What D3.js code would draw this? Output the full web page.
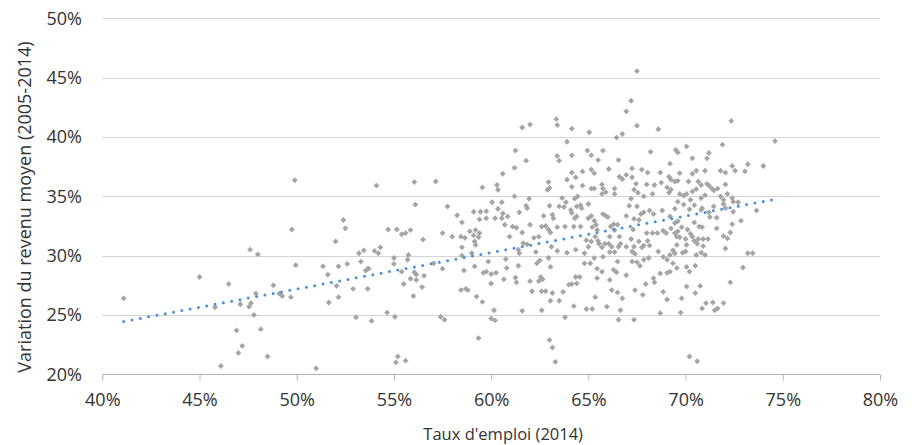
<!DOCTYPE html>
<html>
<head>
<meta charset="utf-8">
<script src="https://cdn.jsdelivr.net/npm/d3@7"></script>
<style>
  body { margin: 0; background: #fff; }
  text { font-family: "Open Sans", sans-serif; fill: #333; }
</style>
</head>
<body>
<script>
// taux d'emploi (%) , variation du revenu moyen (%)
var pointsBelow55 = [[41.1,26.4],[45.0,28.2],[46.5,27.6],[45.8,25.65],[46.1,20.7],[46.9,23.7],[47.0,21.8],[47.2,22.4],[47.1,25.9],[47.6,30.5],[48.0,30.1],[47.55,25.7],[47.65,26.0],[47.8,25.0],[47.9,26.8],[48.15,23.8],[48.5,21.5],[48.8,27.5],[49.1,26.8],[49.25,26.6],[49.7,26.5],[49.75,32.2],[49.95,29.2],[49.9,36.35],[51.0,20.5],[51.35,29.1],[51.6,28.4],[51.65,26.05],[52.0,31.2],[52.4,33.0],[52.5,32.3],[52.15,29.1],[52.05,27.45],[52.15,26.5],[52.6,29.3],[52.9,27.2],[53.05,24.8],[53.2,30.2],[53.3,29.5],[53.45,30.45],[53.55,28.75],[53.65,28.9],[53.7,28.9],[53.65,27.2],[53.85,24.5],[54.0,30.4],[54.1,35.9],[54.2,30.2],[54.3,30.7],[54.65,25.2],[54.7,32.2]];

var points55to60 = [[55.0,29.8],[55.0,29.3],[55.05,24.85],[55.1,21.0],[55.2,21.5],[55.6,21.15],[55.15,32.2],[55.4,31.8],[55.4,28.65],[55.5,27.6],[55.6,31.9],[55.7,29.65],[55.75,30.05],[55.85,32.15],[55.85,28.05],[56.0,26.6],[56.05,36.2],[56.1,34.3],[56.05,28.6],[56.15,28.4],[56.15,27.95],[56.5,31.35],[56.55,28.3],[56.45,27.35],[57.15,36.25],[57.05,29.35],[57.5,28.9],[57.5,31.9],[57.4,24.85],[57.6,24.6],[57.75,34.15],[58.0,31.6],[58.25,33.4],[58.5,32.8],[58.45,31.6],[58.65,31.5],[58.5,30.7],[58.5,30.0],[58.6,28.75],[58.45,27.1],[58.7,27.2],[58.8,27.1],[59.1,33.7],[58.9,32.05],[59.1,31.7],[59.2,32.15],[59.15,31.2],[59.2,30.9],[59.15,29.1],[59.25,26.55],[59.35,23.05],[59.0,30.2],[59.55,35.75],[59.55,26.1],[59.45,33.7],[59.75,33.75],[59.4,33.05],[59.75,33.15],[59.4,31.9],[59.35,31.55],[59.85,29.5],[59.6,28.55],[59.75,28.65]];

var points60to65 = [[61.6,40.8],[62.0,41.05],[63.35,41.5],[63.4,41.0],[64.15,40.7],[63.9,39.6],[61.25,38.85],[61.8,38.0],[63.4,38.4],[63.5,38.0],[64.15,38.45],[60.6,36.9],[61.2,37.4],[62.95,36.2],[62.9,35.55],[63.0,35.7],[63.9,36.4],[64.15,37.0],[64.15,35.8],[64.35,36.6],[60.3,35.95],[60.35,35.55],[61.2,35.0],[61.95,34.8],[60.05,34.5],[60.55,34.5],[60.35,33.95],[60.6,33.55],[60.2,33.15],[60.55,33.15],[60.85,33.3],[60.7,32.6],[60.95,31.6],[61.1,32.45],[61.3,32.35],[61.45,33.65],[61.8,34.2],[61.85,34.0],[62.0,32.6],[61.6,31.95],[61.65,31.05],[61.4,30.5],[62.2,31.5],[62.45,31.6],[62.6,32.45],[62.7,33.35],[62.8,32.5],[62.95,32.2],[63.05,31.95],[63.0,34.2],[63.15,33.45],[63.2,33.15],[63.4,32.4],[63.5,34.15],[63.65,34.85],[63.85,34.5],[63.75,34.1],[64.1,33.85],[64.15,33.6],[63.8,32.45],[64.25,32.45],[64.45,35.0],[64.4,33.3],[60.0,28.45],[60.25,28.55],[60.0,27.65],[60.65,28.0],[60.75,29.7],[60.8,28.95],[61.25,28.15],[61.3,27.75],[61.4,29.15],[61.45,30.2],[61.85,30.95],[62.0,27.85],[62.1,27.0],[62.3,30.3],[62.5,29.6],[62.35,29.35],[62.45,27.85],[62.55,28.2],[62.65,28.0],[62.6,27.0],[62.8,27.0],[62.95,29.8],[63.05,29.05],[63.1,30.75],[63.15,26.85],[63.05,26.2],[63.4,30.4],[63.5,26.2],[63.7,26.95],[63.9,30.25],[64.0,27.55],[64.15,27.6],[64.35,28.2],[64.25,25.75],[64.35,30.5],[63.8,24.8],[61.6,25.35],[62.6,25.4],[60.0,24.7],[60.2,24.55],[60.15,25.4],[63.0,22.9],[63.15,22.25],[63.3,21.05],[64.95,38.85],[64.7,37.1],[64.7,35.9],[64.3,34.8],[64.4,34.15],[64.6,34.25],[64.65,34.0],[64.3,33.15],[64.6,32.45],[64.9,31.3],[64.8,29.35],[64.55,28.2],[64.4,27.65],[64.9,25.5],[64.8,30.2]];

var points65to70 = [[67.5,45.55],[67.2,43.05],[66.95,42.15],[67.5,40.95],[65.05,40.4],[66.45,39.95],[66.75,40.25],[68.6,40.65],[65.15,38.45],[65.5,38.05],[65.75,38.85],[66.55,38.05],[68.2,38.75],[69.5,38.9],[69.6,38.7],[69.2,37.75],[65.15,37.25],[65.3,36.95],[66.05,37.3],[66.6,36.65],[66.75,36.45],[66.95,36.8],[67.25,37.35],[67.25,36.6],[67.75,37.25],[68.05,37.0],[68.7,37.0],[68.75,36.15],[68.4,35.95],[68.0,36.0],[67.45,36.05],[67.35,35.55],[67.55,35.3],[69.15,36.65],[69.25,36.4],[69.05,35.75],[69.15,35.3],[69.25,35.55],[69.6,36.3],[65.15,35.65],[65.3,35.65],[65.7,36.0],[65.75,35.65],[65.9,35.35],[65.7,35.2],[66.35,35.65],[66.35,35.2],[67.2,34.8],[67.85,35.0],[68.3,35.2],[65.0,34.35],[65.0,33.15],[65.15,33.35],[65.3,32.95],[65.4,32.6],[65.2,32.4],[65.45,32.15],[65.75,33.5],[65.9,33.35],[66.0,33.25],[66.15,32.45],[66.3,32.65],[66.35,32.15],[66.5,32.6],[66.95,33.35],[67.35,33.1],[67.7,33.5],[67.85,33.65],[68.15,33.8],[68.35,33.5],[68.8,33.8],[69.2,33.3],[69.45,33.95],[67.6,33.0],[67.5,34.15],[67.1,34.2],[65.0,30.75],[65.15,31.2],[65.35,31.6],[65.5,31.25],[65.55,31.0],[65.7,30.7],[65.85,31.0],[66.05,31.0],[66.1,30.3],[66.35,30.3],[66.2,30.75],[66.55,30.75],[66.65,31.0],[66.5,29.5],[66.95,30.75],[67.2,31.4],[67.35,30.75],[67.25,30.35],[67.4,30.15],[67.6,31.2],[67.75,30.7],[67.85,30.85],[68.05,31.25],[68.15,30.85],[68.0,31.9],[68.3,31.9],[68.55,31.9],[68.85,32.1],[69.0,31.9],[69.25,32.3],[69.45,31.9],[69.6,32.05],[68.6,30.35],[67.5,29.45],[67.65,29.15],[67.85,29.65],[68.1,29.8],[68.85,29.9],[69.05,29.65],[69.2,30.05],[69.35,29.35],[69.55,28.95],[65.3,29.8],[65.1,29.35],[65.45,28.9],[65.7,28.65],[66.3,28.8],[66.45,28.6],[66.95,28.35],[67.25,29.5],[65.45,28.1],[66.1,27.95],[68.35,28.1],[68.4,27.75],[67.95,27.6],[68.7,28.5],[69.05,28.55],[69.2,28.65],[66.2,27.1],[66.5,26.9],[66.75,26.4],[65.35,26.5],[67.4,27.1],[67.8,26.7],[68.85,26.95],[69.05,26.3],[65.2,25.5],[65.95,25.7],[66.65,25.4],[66.55,24.6],[67.35,24.6],[68.7,25.15],[65.75,29.9],[66.1,31.6],[67.3,32.2],[66.6,31.6],[69.7,36.95],[69.45,36.25],[69.7,35.2],[69.9,35.05],[69.6,34.55],[69.9,34.3],[69.45,32.75],[69.6,32.9],[69.55,31.6],[69.8,32.4],[69.7,31.55],[69.55,30.9],[69.35,30.45],[69.45,30.2],[69.85,30.25],[69.8,26.4],[69.75,25.2]];

var pointsAbove70 = [[72.35,41.35],[74.6,39.65],[71.9,39.35],[70.05,39.2],[70.35,38.2],[71.1,38.2],[71.2,38.65],[70.35,36.9],[70.55,37.15],[71.0,37.15],[71.8,37.15],[72.05,37.0],[72.4,37.55],[72.55,37.15],[73.05,37.1],[73.2,37.7],[74.0,37.55],[70.15,36.25],[70.65,36.25],[70.8,35.95],[71.1,36.05],[71.2,35.9],[71.35,35.65],[71.45,35.5],[71.65,35.65],[72.05,36.0],[71.8,35.0],[71.95,34.7],[72.15,35.2],[72.4,34.85],[72.45,34.55],[72.7,34.5],[70.05,35.2],[70.35,35.4],[70.55,35.6],[70.25,34.7],[70.8,34.85],[71.0,35.1],[70.2,33.9],[70.45,34.25],[70.8,33.85],[70.85,34.0],[71.2,33.65],[71.25,33.25],[71.45,34.15],[71.6,33.2],[71.95,34.35],[72.05,34.0],[72.45,33.7],[72.85,32.95],[72.4,32.65],[73.65,33.8],[70.1,32.2],[70.45,32.8],[70.7,32.45],[70.85,32.4],[71.6,32.3],[70.0,31.4],[70.25,31.85],[70.35,31.6],[70.45,31.25],[70.65,31.4],[70.6,31.0],[70.9,31.4],[71.15,31.4],[70.9,30.8],[71.95,31.65],[72.15,31.45],[72.3,31.95],[72.05,30.6],[70.05,30.9],[70.55,30.05],[70.8,30.25],[71.0,30.05],[70.0,30.35],[73.2,30.2],[73.45,30.2],[72.95,29.0],[72.3,27.75],[70.05,29.05],[70.2,28.65],[70.5,29.15],[70.05,27.4],[70.5,26.85],[70.75,27.45],[70.85,25.55],[71.05,26.0],[71.4,26.05],[71.5,25.4],[71.65,25.55],[71.95,26.0],[70.2,21.5],[70.6,21.1]];

// linear trend (start / end)
var trendX = [41.1, 74.6];
var trendY = [24.45, 34.75];

var xTicks = [40, 45, 50, 55, 60, 65, 70, 75, 80];
var yTicks = [20, 25, 30, 35, 40, 45, 50];

var xLabel = "Taux d'emploi (2014)";
var yLabel = "Variation du revenu moyen (2005-2014)";

var allPoints = pointsBelow55.concat(points55to60, points60to65, points65to70, pointsAbove70);

var width = 912, height = 445;
var fontSize = 18;
var svg = d3.select("body").append("svg").attr("width", width).attr("height", height);

var x = d3.scaleLinear().domain([40, 80]).range([102.3, 880]);
var y = d3.scaleLinear().domain([20, 50]).range([374.3, 18.3]);

// gridlines
svg.append("g").selectAll("line")
    .data(yTicks.slice(1))
    .enter().append("line")
    .attr("x1", x(40)).attr("x2", x(80))
    .attr("y1", function(d) { return Math.round(y(d)) + 0.5; })
    .attr("y2", function(d) { return Math.round(y(d)) + 0.5; })
    .attr("stroke", "#d4d4d4")
    .attr("stroke-width", 1);

// x axis
var xAxis = svg.append("g")
    .attr("transform", "translate(0," + (Math.round(y(20)) + 0.5) + ")")
    .call(d3.axisBottom(x).tickValues(xTicks).tickSize(6).tickPadding(13)
        .tickFormat(function(d) { return d + "%"; }));
xAxis.select(".domain").attr("stroke", "#b5b5b5").attr("d", "M" + x(40) + ",0H" + x(80));
xAxis.selectAll(".tick line").attr("stroke", "#b5b5b5");
xAxis.selectAll(".tick text").attr("font-size", fontSize).attr("fill", "#333")
    .style("font-family", "'Open Sans', sans-serif");

// y labels
svg.append("g").selectAll("text")
    .data(yTicks)
    .enter().append("text")
    .attr("x", 82)
    .attr("y", function(d) { return y(d); })
    .attr("dy", "0.35em")
    .attr("text-anchor", "end")
    .attr("font-size", fontSize)
    .text(function(d) { return d + "%"; });

// scatter points (diamonds)
var diamond = d3.symbol().type(d3.symbolSquare).size(17);
svg.append("g").selectAll("path")
    .data(allPoints)
    .enter().append("path")
    .attr("d", diamond)
    .attr("transform", function(d) { return "translate(" + x(d[0]) + "," + y(d[1]) + ") rotate(45)"; })
    .attr("fill", "#a5a5a5");

// dotted trend line
var trend = d3.line()
    .x(function(d) { return x(d[0]); })
    .y(function(d) { return y(d[1]); });
svg.append("path")
    .attr("d", trend([[trendX[0], trendY[0]], [trendX[1], trendY[1]]]))
    .attr("fill", "none")
    .attr("stroke", "#4a90d9")
    .attr("stroke-width", 3)
    .attr("stroke-linecap", "round")
    .attr("stroke-dasharray", "0,8.45");

// axis titles
svg.append("text")
    .attr("x", 583).attr("y", 440)
    .attr("text-anchor", "end")
    .attr("font-size", 16.5)
    .text(xLabel);

svg.append("text")
    .attr("transform", "translate(31,207) rotate(-90)")
    .attr("text-anchor", "middle")
    .attr("font-size", fontSize)
    .text(yLabel);
</script>
</body>
</html>
